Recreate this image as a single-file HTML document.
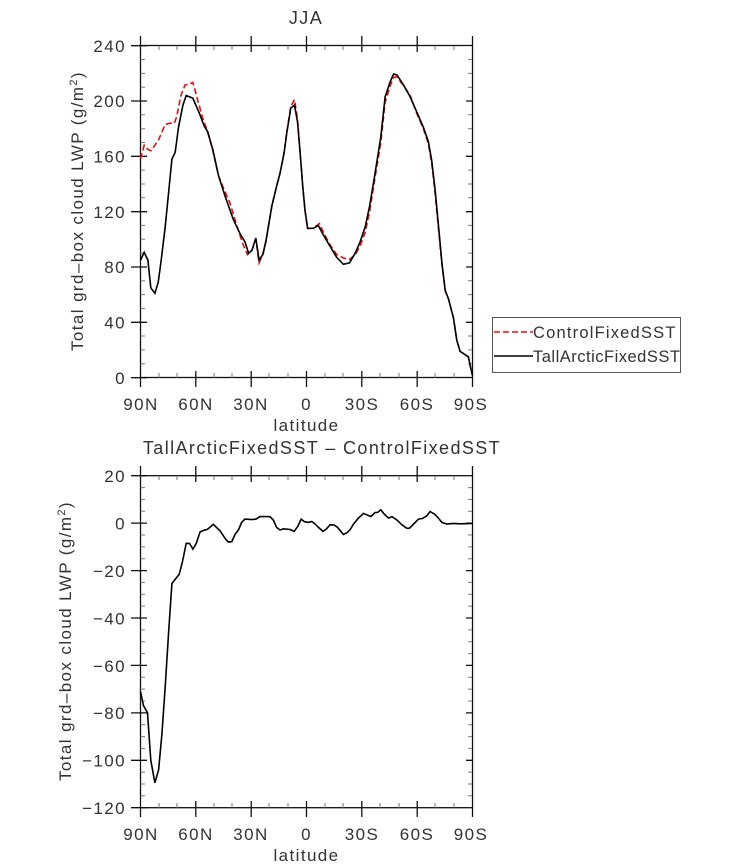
<!DOCTYPE html>
<html><head><meta charset="utf-8"><style>
html,body{margin:0;padding:0;background:#fff;}
svg{display:block;font-family:"Liberation Sans",sans-serif;}
text{fill:#333;font-size:17px;letter-spacing:1.4px;}
</style></head><body>
<svg width="733" height="866" viewBox="0 0 733 866" xmlns="http://www.w3.org/2000/svg">
<g id="top">
<text x="306" y="24" text-anchor="middle" style="font-size:18px">JJA</text>
<rect x="140.5" y="45.5" width="332" height="332" fill="none" stroke="#111" stroke-width="1.3"/>
<g stroke="#111" stroke-width="1.3">
<path d="M131,45.7H147 M131,101H147 M131,156.3H147 M131,211.7H147 M131,267H147 M131,322.3H147 M131,377.7H147"/>
<path d="M466,101H472 M466,156.3H472 M466,211.7H472 M466,267H472 M466,322.3H472"/>
<path d="M140.5,377.7V387 M195.8,371V387 M251.2,371V387 M306.5,371V387 M361.8,371V387 M417.2,371V387 M472.5,377.7V387"/>
<path d="M140.5,36V45.7 M195.8,36V52 M251.2,36V52 M306.5,36V52 M361.8,36V52 M417.2,36V52 M472.5,36V45.7"/>
</g>
<g stroke="#777" stroke-width="1">
<path d="M140.5,59.5H145 M140.5,73.4H145 M140.5,87.2H145 M140.5,114.8H145 M140.5,128.7H145 M140.5,142.5H145 M140.5,170.1H145 M140.5,184H145 M140.5,197.8H145 M140.5,225.4H145 M140.5,239.3H145 M140.5,253.1H145 M140.5,280.7H145 M140.5,294.6H145 M140.5,308.4H145 M140.5,336H145 M140.5,349.9H145 M140.5,363.7H145"/>
<path d="M468,59.5H472 M468,73.4H472 M468,87.2H472 M468,114.8H472 M468,128.7H472 M468,142.5H472 M468,170.1H472 M468,184H472 M468,197.8H472 M468,225.4H472 M468,239.3H472 M468,253.1H472 M468,280.7H472 M468,294.6H472 M468,308.4H472 M468,336H472 M468,349.9H472 M468,363.7H472"/>
<path d="M159,45.7V50 M177,45.7V50 M214,45.7V50 M232,45.7V50 M269,45.7V50 M288,45.7V50 M325,45.7V50 M343,45.7V50 M380,45.7V50 M399,45.7V50 M435,45.7V50 M454,45.7V50"/>
<path d="M159,373V377.7 M177,373V377.7 M214,373V377.7 M232,373V377.7 M269,373V377.7 M288,373V377.7 M325,373V377.7 M343,373V377.7 M380,373V377.7 M399,373V377.7 M435,373V377.7 M454,373V377.7"/>
</g>
<g text-anchor="end">
<text x="126" y="52">240</text><text x="126" y="107">200</text><text x="126" y="162.5">160</text>
<text x="126" y="218">120</text><text x="126" y="273">80</text><text x="126" y="328.5">40</text><text x="126" y="384">0</text>
</g>
<g text-anchor="middle">
<text x="141" y="410">90N</text><text x="196" y="410">60N</text><text x="251" y="410">30N</text><text x="306.5" y="410">0</text>
<text x="362" y="410">30S</text><text x="417" y="410">60S</text><text x="471" y="410">90S</text>
<text x="306.5" y="431">latitude</text>
</g>
<text transform="translate(83,211) rotate(-90)" text-anchor="middle">Total grd–box cloud LWP (g/m<tspan style="font-size:11px" dy="-6">2</tspan><tspan dy="6">)</tspan></text>
<polyline id="red" fill="none" stroke="#e01010" stroke-width="1.6" stroke-dasharray="6,3" points=""/>
<polyline id="blk" fill="none" stroke="#000" stroke-width="1.6" points=""/>
</g>
<g id="legend">
<rect x="492.5" y="317.5" width="188" height="55" fill="#fff" stroke="#555" stroke-width="1"/>
<line x1="494" y1="332" x2="533" y2="332" stroke="#e01010" stroke-width="1.4" stroke-dasharray="6,3"/>
<line x1="494" y1="356" x2="533" y2="356" stroke="#000" stroke-width="1.4"/>
<text x="533" y="338" style="font-size:16.5px;letter-spacing:1.2px">ControlFixedSST</text>
<text x="533" y="362" style="font-size:16.5px;letter-spacing:0.5px">TallArcticFixedSST</text>
</g>
<g id="bot">
<text x="322" y="454" text-anchor="middle" style="font-size:18px">TallArcticFixedSST – ControlFixedSST</text>
<rect x="140.5" y="475.7" width="332" height="332" fill="none" stroke="#111" stroke-width="1.3"/>
<g stroke="#111" stroke-width="1.3">
<path d="M131,475.7H147 M131,523.1H147 M131,570.6H147 M131,618H147 M131,665.4H147 M131,712.9H147 M131,760.3H147 M131,807.7H147"/>
<path d="M466,523.1H472 M466,570.6H472 M466,618H472 M466,665.4H472 M466,712.9H472 M466,760.3H472"/>
<path d="M140.5,807.7V817 M195.8,801V817 M251.2,801V817 M306.5,801V817 M361.8,801V817 M417.2,801V817 M472.5,807.7V817"/>
<path d="M140.5,466V475.7 M195.8,466V482 M251.2,466V482 M306.5,466V482 M361.8,466V482 M417.2,466V482 M472.5,466V475.7"/>
</g>
<g stroke="#777" stroke-width="1">
<path d="M140.5,487.6H145 M140.5,499.4H145 M140.5,511.3H145 M140.5,535H145 M140.5,546.9H145 M140.5,558.7H145 M140.5,582.4H145 M140.5,594.3H145 M140.5,606.1H145 M140.5,629.9H145 M140.5,641.7H145 M140.5,653.6H145 M140.5,677.3H145 M140.5,689.1H145 M140.5,701H145 M140.5,724.7H145 M140.5,736.6H145 M140.5,748.4H145 M140.5,772.1H145 M140.5,784H145 M140.5,795.8H145"/>
<path d="M468,487.6H472 M468,499.4H472 M468,511.3H472 M468,535H472 M468,546.9H472 M468,558.7H472 M468,582.4H472 M468,594.3H472 M468,606.1H472 M468,629.9H472 M468,641.7H472 M468,653.6H472 M468,677.3H472 M468,689.1H472 M468,701H472 M468,724.7H472 M468,736.6H472 M468,748.4H472 M468,772.1H472 M468,784H472 M468,795.8H472"/>
<path d="M159,475.7V480 M177,475.7V480 M214,475.7V480 M232,475.7V480 M269,475.7V480 M288,475.7V480 M325,475.7V480 M343,475.7V480 M380,475.7V480 M399,475.7V480 M435,475.7V480 M454,475.7V480"/>
<path d="M159,803V807.7 M177,803V807.7 M214,803V807.7 M232,803V807.7 M269,803V807.7 M288,803V807.7 M325,803V807.7 M343,803V807.7 M380,803V807.7 M399,803V807.7 M435,803V807.7 M454,803V807.7"/>
</g>
<g text-anchor="end">
<text x="126" y="482">20</text><text x="126" y="529.5">0</text><text x="126" y="577">−20</text><text x="126" y="624.5">−40</text>
<text x="126" y="672">−60</text><text x="126" y="719">−80</text><text x="126" y="766.5">−100</text><text x="126" y="814">−120</text>
</g>
<g text-anchor="middle">
<text x="141" y="840">90N</text><text x="196" y="840">60N</text><text x="251" y="840">30N</text><text x="306.5" y="840">0</text>
<text x="362" y="840">30S</text><text x="417" y="840">60S</text><text x="471" y="840">90S</text>
<text x="306.5" y="861">latitude</text>
</g>
<text transform="translate(71,641) rotate(-90)" text-anchor="middle">Total grd–box cloud LWP (g/m<tspan style="font-size:11px" dy="-6">2</tspan><tspan dy="6">)</tspan></text>
<polyline id="dif" fill="none" stroke="#000" stroke-width="1.6" points=""/>
</g>
</svg>
<script>
function X(l){return 140.5+(90-l)/180*332;}
var blk=[[90,85],[88,90.6],[86,85],[84.4,65],[82.2,61],[80.4,69],[78.8,85],[76.6,109],[74.8,133],[73,158],[71.2,163],[69.4,181],[67,197],[65.2,204],[61.6,202],[58,191],[55.5,182],[53.7,178],[50.8,165],[47.7,146],[44.1,131],[39.6,114],[36,104],[33.3,98],[31.4,90],[29.6,92],[27.5,101],[25.7,85],[23.7,89],[21.9,99.5],[18.8,124],[16.1,139],[14.3,148],[12.1,163],[10.7,177],[8.5,195],[6.5,197],[4.9,185],[3.4,162],[2,138],[0.8,121],[-0.6,108],[-3.7,108],[-6.4,110],[-9.2,103],[-12.8,95],[-16.4,87],[-20,82],[-23.3,83],[-26.4,90],[-29,98],[-31.8,109],[-34.2,124],[-37.2,148],[-40.3,174],[-42.6,203],[-45.4,214],[-47.2,219.5],[-49,219],[-52.6,211.6],[-56.2,203],[-59.8,192],[-63.4,181],[-66.1,170.6],[-67.9,157],[-69.7,136],[-71.6,109],[-73.4,83],[-75.2,63],[-77,57],[-79.7,43],[-81.5,27],[-83.3,19],[-85.6,17],[-87.8,15],[-89,7],[-90,1.5]];
var red=[[90,158],[88,168],[86,165],[84.2,164],[80.2,172],[76.6,183],[73.9,184],[71.6,184],[70.3,189],[68.1,204],[65.8,211.6],[63.6,212],[61.6,213.5],[59.5,203],[55.9,186],[53.5,178],[50.8,164],[47.7,146],[45,137],[41.4,126],[37.8,110],[34.6,97],[32,89],[29.6,92],[27.5,100],[25.7,83],[23.4,90],[21.9,99],[18.8,124],[16.1,139],[14.3,148],[12.1,163],[10.7,178],[8.5,196],[6.5,201],[4.9,187],[3.4,162],[2,138],[0.8,121],[-0.6,108],[-3.7,108],[-7,111.5],[-9.2,105],[-12.8,96],[-16.4,89],[-20,86.5],[-23.3,85.5],[-26.4,89],[-29,95],[-31.8,105],[-34.2,120],[-37.2,145],[-40.3,170],[-42.6,199],[-45.4,211],[-47.2,217],[-49,217.5],[-52.6,211],[-56.2,204],[-59.8,191],[-63.4,180],[-66.1,169],[-67.9,155],[-69.7,133],[-71.6,107],[-73.4,82],[-75.2,63],[-77,57],[-79.7,43],[-81.5,27],[-83.3,19],[-85.6,17],[-87.8,15],[-89,7],[-90,1.5]];
var dif=[[90,-71],[88.4,-77],[86.2,-80],[84.4,-100],[82.2,-109.5],[80.2,-104],[78.4,-89],[76.6,-69],[74.8,-46.8],[73,-25.5],[71.2,-23.7],[69,-21.6],[67.2,-16],[65.2,-8.5],[63.4,-8.6],[61.6,-11],[59.8,-8.6],[57.7,-3.7],[55.5,-3],[53.7,-2.6],[50.5,-0.5],[46.8,-3.3],[43.8,-6.8],[42.3,-8],[40.5,-7.8],[38.7,-4.7],[36.9,-2.9],[35.2,0.3],[33.4,1.7],[29.6,1.5],[27.3,1.7],[25.5,2.7],[23.4,2.8],[19.8,2.7],[18,1.3],[16.2,-1.8],[14.3,-2.9],[12.5,-2.4],[8.9,-2.7],[6.7,-3.5],[4.7,-1.4],[2.9,1.7],[1.1,0.6],[-1.1,0.3],[-2.9,0.7],[-4.7,-0.4],[-6.5,-1.8],[-8.9,-3.5],[-10.7,-2.5],[-12.8,-0.7],[-15,-0.8],[-16.8,-1.8],[-18.3,-3.2],[-20,-4.8],[-22.2,-3.9],[-23.7,-2.7],[-25.5,-0.4],[-28.2,2.1],[-30.9,4.1],[-32.7,3.5],[-34.9,2.8],[-37.2,4.5],[-38.5,4.5],[-40.3,5.6],[-42.1,3.8],[-44.5,2.1],[-46.3,2.7],[-49,1.3],[-51.7,-0.7],[-54.4,-2.2],[-55.8,-2.2],[-57.6,-0.8],[-60.7,1.7],[-63,2],[-65.2,3.1],[-67,4.9],[-69.4,3.8],[-71.2,2.4],[-73.4,0.3],[-76.1,-0.4],[-79.7,-0.1],[-83.3,-0.3],[-90,-0.1]];
function pts(a,f){return a.map(function(p){return X(p[0]).toFixed(1)+","+f(p[1]).toFixed(1);}).join(" ");}
var ft=function(v){return 377.7-v*332/240;}, fb=function(v){return 475.7+(20-v)*332/140;};
document.getElementById("red").setAttribute("points",pts(red,ft));
document.getElementById("blk").setAttribute("points",pts(blk,ft));
document.getElementById("dif").setAttribute("points",pts(dif,fb));
</script>
</body></html>
